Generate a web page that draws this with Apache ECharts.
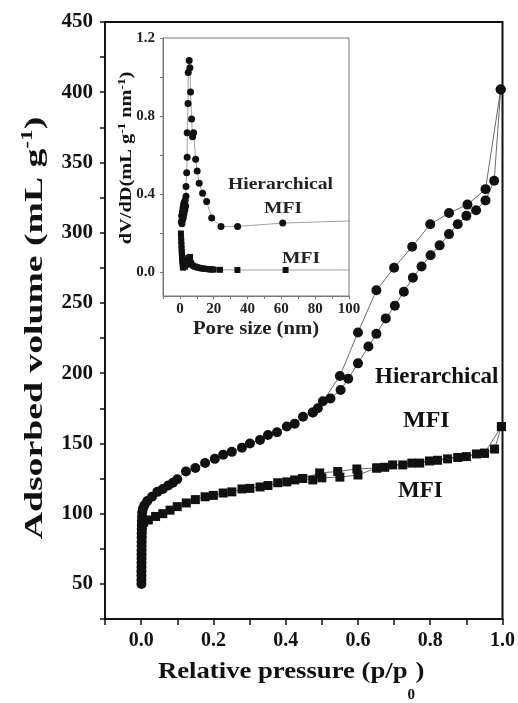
<!DOCTYPE html>
<html>
<head>
<meta charset="utf-8">
<script src="https://cdn.jsdelivr.net/npm/echarts@6/dist/echarts.min.js"></script>
<style>
  html, body { margin: 0; padding: 0; background: #fff; }
  #main { width: 518px; height: 703px; }
</style>
</head>
<body>
<div id="main"></div>
<script>
// isotherms: [p/p0, volume]
var hierAds = [[0.0008,50],[0.0008,53],[0.0009,56],[0.0009,59],[0.001,62],[0.001,65],[0.0011,68],[0.0011,71],
  [0.0012,74],[0.0012,77],[0.0013,80],[0.0014,83],[0.0015,86],[0.0016,89],[0.0018,92],[0.002,95],[0.0025,98],
  [0.003,101],[0.005,103.5],[0.009,106],[0.017,109],[0.03,112],[0.045,115.5],[0.06,117.5],[0.075,120],[0.088,122],
  [0.1,124.5],[0.124,130],[0.15,132.5],[0.177,136],[0.204,139],[0.227,142],[0.251,144],[0.279,147],[0.301,150],
  [0.329,152.5],[0.351,156],[0.376,158],[0.403,162],[0.425,164],[0.448,169],[0.475,172],[0.489,175],[0.524,182],
  [0.552,188],[0.573,196],[0.6,207],[0.629,219],[0.651,228],[0.677,239],[0.702,248],[0.727,258],[0.752,268],
  [0.776,276],[0.801,284],[0.826,291],[0.852,299],[0.876,306],[0.9,312],[0.927,316],[0.953,323],[0.977,337],[0.995,402]];
var hierDes = [[0.995,402],[0.953,331],[0.903,320],[0.852,314],[0.8,306],[0.75,290],[0.7,275],[0.651,259],
  [0.6,229],[0.55,198],[0.503,180],[0.475,172]];
var mfiAds = [[0.0008,58],[0.0009,62],[0.001,66],[0.0011,70],[0.0012,74],[0.0013,78],[0.0014,82],[0.0016,86],
  [0.002,89],[0.003,92],[0.007,94],[0.02,95.5],[0.04,98],[0.06,100],[0.08,102.5],[0.1,105],[0.125,107.6],[0.15,110],
  [0.177,112],[0.2,113],[0.227,114.7],[0.251,115.5],[0.279,117.6],[0.301,118],[0.329,119],[0.351,120],[0.378,122],
  [0.403,122.6],[0.425,124],[0.447,125],[0.475,124],[0.5,125.5],[0.55,126],[0.6,127.5],[0.652,132.5],[0.674,133],
  [0.696,134.7],[0.724,134.7],[0.749,136],[0.771,136],[0.798,137.5],[0.82,138],[0.848,139],[0.876,140],[0.9,140.6],
  [0.928,142.5],[0.95,143],[0.978,146],[0.997,162]];
var mfiDes = [[0.997,162],[0.95,143],[0.652,132.5],[0.597,131.8],[0.544,130],[0.494,129],[0.447,125]];

// pore size distribution: [nm, dV/dD]
var poreHier = [[0.8,0.26],[1.0,0.29],[1.2,0.25],[1.4,0.31],[1.6,0.27],[1.8,0.33],[2.0,0.28],[2.2,0.35],[2.4,0.3],
  [2.6,0.36],[2.9,0.32],[3.1,0.37],[3.4,0.34],[3.6,0.39],[3.6,0.44],[4.0,0.51],[4.3,0.59],[4.3,0.715],[4.8,0.865],
  [4.9,1.023],[5.5,1.085],[5.9,1.048],[6.3,0.924],[6.9,0.785],[7.5,0.695],[8.1,0.715],[9.3,0.58],[10.2,0.52],
  [11.4,0.457],[13.4,0.406],[15.8,0.363],[18.8,0.279],[24.3,0.236],[34.1,0.236],[60.8,0.253],[140,0.275]];
var poreMfi = [[0.6,0.2],[0.7,0.18],[0.8,0.16],[0.9,0.14],[1.0,0.12],[1.1,0.105],[1.2,0.09],[1.3,0.08],[1.4,0.07],
  [1.5,0.06],[1.6,0.05],[1.7,0.04],[1.8,0.03],[1.9,0.025],[2.0,0.035],[2.2,0.05],[2.4,0.04],[2.6,0.06],[2.8,0.045],
  [3.0,0.03],[3.3,0.055],[3.6,0.04],[4.0,0.065],[4.5,0.05],[5.0,0.075],[5.5,0.06],[6.0,0.08],[6.5,0.05],[7.0,0.04],
  [8.0,0.034],[9.0,0.03],[10,0.027],[11,0.025],[12,0.023],[13,0.021],[14,0.02],[15,0.019],[16,0.018],[17,0.017],
  [18,0.016],[19,0.016],[20,0.015],[23.7,0.014],[34,0.013],[62.5,0.013],[140,0.014]];

var xLabels = [0, 0.2, 0.4, 0.6, 0.8, 1.0];
var yLabels = [50, 100, 150, 200, 250, 300, 350, 400, 450];
var insetXLabels = [0, 20, 40, 60, 80, 100];
var insetYLabels = [0, 0.4, 0.8, 1.2];
var insetYTicks = [0, 0.2, 0.4, 0.6, 0.8, 1.0, 1.2];

var serif = 'Liberation Serif';
var ink = '#111';

// width of the x title before the subscript, to place "0" and ")" after it
var xTitleFont = 'bold 23px "Liberation Serif"';
var xTitleScale = 1.16;
var ctx = document.createElement('canvas').getContext('2d');
ctx.font = xTitleFont;
var xTitleEnd = 158 + ctx.measureText('Relative pressure (p/p').width * xTitleScale;

var chartDom = document.getElementById('main');
var myChart = echarts.init(chartDom);
var option;

option = {
    animation: false,
    backgroundColor: '#fff',
    grid: [
        { left: 105, top: 22, width: 400, height: 597, show: true, borderColor: ink, borderWidth: 2 },
        { left: 163, top: 38, width: 186, height: 258, show: true, backgroundColor: '#fff', borderColor: '#777', borderWidth: 1 }
    ],
    xAxis: [
        {
            type: 'value', gridIndex: 0, min: -0.1, max: 1.0, interval: 0.1,
            axisLine: { onZero: false, lineStyle: { color: ink, width: 2 } },
            splitLine: { show: false },
            axisTick: { length: 6, lineStyle: { color: ink, width: 1.5 } },
            axisLabel: {
                customValues: xLabels, margin: 12, color: ink, fontFamily: serif, fontWeight: 'bold', fontSize: 20,
                formatter: function (v) { return v.toFixed(1); }
            }
        },
        {
            type: 'value', gridIndex: 1, min: -10, max: 100, interval: 10,
            axisLine: { onZero: false, lineStyle: { color: '#777', width: 1 } },
            splitLine: { show: false },
            axisTick: { length: 3, lineStyle: { color: '#777' } },
            axisLabel: { customValues: insetXLabels, margin: 6, color: '#222', fontFamily: serif, fontWeight: 'bold', fontSize: 15 }
        }
    ],
    yAxis: [
        {
            type: 'value', gridIndex: 0, min: 25, max: 450, interval: 25,
            axisLine: { onZero: false, lineStyle: { color: ink, width: 2 } },
            splitLine: { show: false },
            axisTick: { length: 5, lineStyle: { color: ink, width: 1.5 } },
            axisLabel: { customValues: yLabels, margin: 12, color: ink, fontFamily: serif, fontWeight: 'bold', fontSize: 21 }
        },
        {
            type: 'value', gridIndex: 1, min: -0.12, max: 1.2,
            axisLine: { onZero: false, lineStyle: { color: '#777', width: 1 } },
            splitLine: { show: false },
            axisTick: { customValues: insetYTicks, length: 3, lineStyle: { color: '#777' } },
            axisLabel: {
                customValues: insetYLabels, margin: 8, color: '#222', fontFamily: serif, fontWeight: 'bold', fontSize: 15,
                formatter: function (v) { return v.toFixed(1); }
            }
        }
    ],
    series: [
        {
            name: 'Hierarchical MFI ads', type: 'line', xAxisIndex: 0, yAxisIndex: 0, data: hierAds,
            symbol: 'circle', symbolSize: 10, itemStyle: { color: ink }, lineStyle: { color: '#444', width: 0.8 }
        },
        {
            name: 'Hierarchical MFI des', type: 'line', xAxisIndex: 0, yAxisIndex: 0, data: hierDes,
            symbol: 'circle', symbolSize: 10, itemStyle: { color: ink }, lineStyle: { color: '#444', width: 0.8 }
        },
        {
            name: 'MFI ads', type: 'line', xAxisIndex: 0, yAxisIndex: 0, data: mfiAds,
            symbol: 'rect', symbolSize: 9, itemStyle: { color: ink }, lineStyle: { color: '#444', width: 0.8 }
        },
        {
            name: 'MFI des', type: 'line', xAxisIndex: 0, yAxisIndex: 0, data: mfiDes,
            symbol: 'rect', symbolSize: 9, itemStyle: { color: ink }, lineStyle: { color: '#444', width: 0.8 }
        },
        {
            name: 'Hierarchical MFI PSD', type: 'line', xAxisIndex: 1, yAxisIndex: 1, data: poreHier, z: 5,
            symbol: 'circle', symbolSize: 7, itemStyle: { color: ink }, lineStyle: { color: '#888', width: 0.8 }
        },
        {
            name: 'MFI PSD', type: 'line', xAxisIndex: 1, yAxisIndex: 1, data: poreMfi, z: 5,
            symbol: 'rect', symbolSize: 6, itemStyle: { color: ink }, lineStyle: { color: '#888', width: 0.8 }
        }
    ],
    graphic: [
        // main axis titles
        {
            type: 'text', x: 35, y: 328, rotation: Math.PI / 2, scaleX: 1.45, z: 10,
            style: {
                text: '{a|Adsorbed volume (mL g}{s|-1}{a|)}', align: 'center', verticalAlign: 'middle', fill: ink,
                rich: {
                    a: { fontFamily: serif, fontWeight: 'bold', fontSize: 26, lineHeight: 30, fill: ink },
                    s: { fontFamily: serif, fontWeight: 'bold', fontSize: 16, lineHeight: 30, verticalAlign: 'top', fill: ink }
                }
            }
        },
        {
            type: 'text', x: 158, y: 672, scaleX: xTitleScale, z: 10,
            style: { text: 'Relative pressure (p/p', font: xTitleFont, align: 'left', verticalAlign: 'middle', fill: ink }
        },
        {
            type: 'text', x: xTitleEnd, y: 695, z: 10,
            style: { text: '0', font: 'bold 15px "Liberation Serif"', align: 'left', verticalAlign: 'middle', fill: ink }
        },
        {
            type: 'text', x: xTitleEnd + 8, y: 672, scaleX: xTitleScale, z: 10,
            style: { text: ')', font: xTitleFont, align: 'left', verticalAlign: 'middle', fill: ink }
        },
        // inset axis titles
        {
            type: 'text', x: 127, y: 158, rotation: Math.PI / 2, scaleX: 1.2, z: 10,
            style: {
                text: '{a|dV/dD(mL g}{s|-1}{a| nm}{s|-1}{a|)}', align: 'center', verticalAlign: 'middle', fill: ink,
                rich: {
                    a: { fontFamily: serif, fontWeight: 'bold', fontSize: 17, lineHeight: 20, fill: ink },
                    s: { fontFamily: serif, fontWeight: 'bold', fontSize: 11, lineHeight: 20, verticalAlign: 'top', fill: ink }
                }
            }
        },
        {
            type: 'text', x: 256, y: 329, scaleX: 1.15, z: 10,
            style: { text: 'Pore size (nm)', font: 'bold 18px "Liberation Serif"', align: 'center', verticalAlign: 'middle', fill: '#222' }
        },
        // curve annotations
        {
            type: 'text', x: 375, y: 377, z: 10,
            style: { text: 'Hierarchical', font: 'bold 23px "Liberation Serif"', align: 'left', verticalAlign: 'middle', fill: ink }
        },
        {
            type: 'text', x: 403, y: 421, z: 10,
            style: { text: 'MFI', font: 'bold 24px "Liberation Serif"', align: 'left', verticalAlign: 'middle', fill: ink }
        },
        {
            type: 'text', x: 398, y: 491, z: 10,
            style: { text: 'MFI', font: 'bold 23px "Liberation Serif"', align: 'left', verticalAlign: 'middle', fill: ink }
        },
        {
            type: 'text', x: 228, y: 185, scaleX: 1.15, z: 10,
            style: { text: 'Hierarchical', font: 'bold 17px "Liberation Serif"', align: 'left', verticalAlign: 'middle', fill: '#222' }
        },
        {
            type: 'text', x: 264, y: 209, scaleX: 1.15, z: 10,
            style: { text: 'MFI', font: 'bold 17px "Liberation Serif"', align: 'left', verticalAlign: 'middle', fill: '#222' }
        },
        {
            type: 'text', x: 282, y: 259, scaleX: 1.15, z: 10,
            style: { text: 'MFI', font: 'bold 17px "Liberation Serif"', align: 'left', verticalAlign: 'middle', fill: '#222' }
        }
    ]
};

option && myChart.setOption(option);
</script>
</body>
</html>
